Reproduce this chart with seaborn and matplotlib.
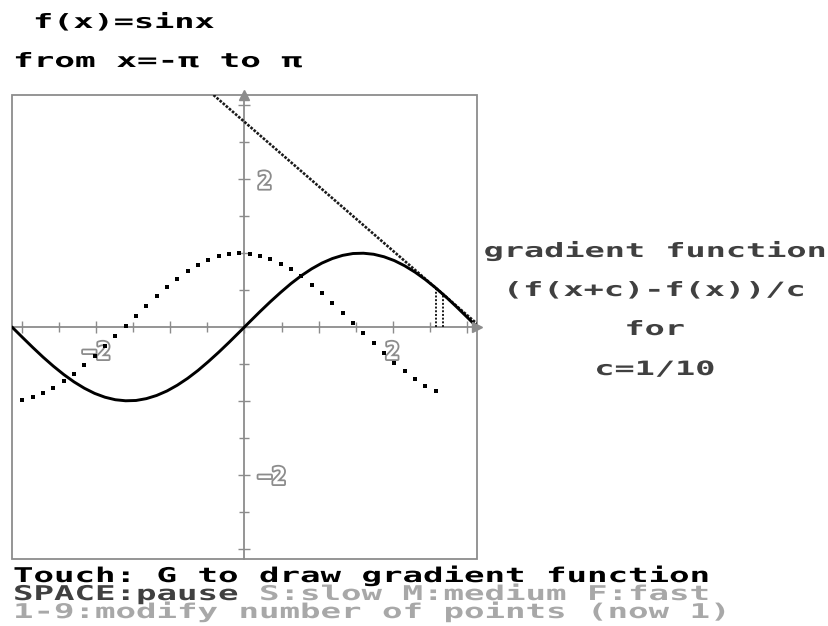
import matplotlib
matplotlib.use("Agg")
import matplotlib.pyplot as plt
import matplotlib.patheffects as pe
from matplotlib.transforms import Affine2D
from matplotlib.ticker import MultipleLocator, FuncFormatter
from matplotlib.patches import Rectangle
import numpy as np
import pandas as pd
import seaborn as sns

# sample points across [-pi, pi] (steps of 8 degrees)
x_vals = [-3.142, -3.002, -2.862, -2.723, -2.583, -2.443, -2.304, -2.164,
          -2.025, -1.885, -1.745, -1.606, -1.466, -1.326, -1.187, -1.047,
          -0.908, -0.768, -0.628, -0.489, -0.349, -0.209, -0.070, 0.070,
          0.209, 0.349, 0.489, 0.628, 0.768, 0.908, 1.047, 1.187,
          1.326, 1.466, 1.606, 1.745, 1.885, 2.025, 2.164, 2.304,
          2.443, 2.583, 2.723, 2.862, 3.002, 3.142]

# f(x) = sin x at those points
sin_vals = [0.000, -0.139, -0.276, -0.407, -0.530, -0.643, -0.743, -0.829,
            -0.899, -0.951, -0.985, -0.999, -0.995, -0.970, -0.927, -0.866,
            -0.788, -0.695, -0.588, -0.469, -0.342, -0.208, -0.070, 0.070,
            0.208, 0.342, 0.469, 0.588, 0.695, 0.788, 0.866, 0.927,
            0.970, 0.995, 0.999, 0.985, 0.951, 0.899, 0.829, 0.743,
            0.643, 0.530, 0.407, 0.276, 0.139, 0.000]

# gradient (f(x+c)-f(x))/c plotted so far
grad_x = x_vals[1:42]
grad_vals = [-0.982, -0.946, -0.892, -0.820, -0.733, -0.631, -0.517, -0.393,
             -0.261, -0.124, 0.015, 0.154, 0.290, 0.420, 0.543, 0.654,
             0.753, 0.837, 0.905, 0.955, 0.987, 1.000, 0.993, 0.966,
             0.921, 0.858, 0.779, 0.684, 0.575, 0.456, 0.328, 0.193,
             0.055, -0.085, -0.223, -0.356, -0.483, -0.600, -0.705, -0.797,
             -0.873]

# current chord: x and x+c with their function values
chord_x = [2.583, 2.683]
chord_y = [0.530, 0.443]

tick_text = {-2: "\u22122", 2: "2"}

title_lines = ["f(x)=sinx", "from x=-\u03c0 to \u03c0"]
side_lines = ["gradient function", "(f(x+c)-f(x))/c", "for", "c=1/10"]
help_line1 = "Touch: G to draw gradient function"
help_key = "SPACE:pause"
help_speed = "S:slow M:medium F:fast"
help_line3 = "1-9:modify number of points (now 1)"


class Widen(pe.AbstractPathEffect):
    """Stretch glyphs about the baseline to mimic a wide bitmap font."""

    def __init__(self, sx, sy=1.0, centred=False):
        super().__init__()
        self._sx = sx
        self._sy = sy
        self._centred = centred

    def draw_path(self, renderer, gc, tpath, affine, rgbFace=None):
        cx = 0.0
        if self._centred:
            ext = tpath.get_extents()
            cx = 0.5 * (ext.x0 + ext.x1)
        stretch = (Affine2D().translate(-cx, 0)
                   .scale(self._sx, self._sy).translate(cx, 0))
        renderer.draw_path(gc, tpath, stretch + affine, rgbFace)


sns.set_style("white")
plt.rcParams["font.family"] = ["DejaVu Sans Mono", "DejaVu Sans"]

W, H = 829, 626
fig = plt.figure(figsize=(W / 100, H / 100), dpi=100)
ax = fig.add_axes([12 / W, (H - 559) / H, 465 / W, 464 / H])

PI = np.pi
ax.set_xlim(-PI, PI)
ax.set_ylim(-PI, PI)

# chord extended to a full line, and the two verticals under it
ax.axline((chord_x[0], chord_y[0]), (chord_x[1], chord_y[1]),
          color="#1a1a1a", lw=1.9, ls=(0, (1.0, 0.55)), zorder=3)
ax.vlines(chord_x, 0, chord_y, colors="#1a1a1a", lw=1.4,
          linestyles=(0, (1, 0.9)), zorder=3)

df_curve = pd.DataFrame({"x": x_vals, "y": sin_vals})
sns.lineplot(data=df_curve, x="x", y="y", ax=ax, color="black", lw=2.1,
             sort=False, estimator=None, zorder=4)

df_grad = pd.DataFrame({"x": grad_x, "y": grad_vals})
sns.scatterplot(data=df_grad, x="x", y="y", ax=ax, color="black", s=6,
                marker="s", linewidth=0, zorder=4)

ax.set_xlabel("")
ax.set_ylabel("")

# axes through the origin
axis_col = "#8c8c8c"
for side in ("left", "bottom", "right"):
    ax.spines[side].set_position(("data", 0))
ax.spines["left"].set_color(axis_col)
ax.spines["bottom"].set_color(axis_col)
ax.spines["left"].set_linewidth(1.3)
ax.spines["bottom"].set_linewidth(1.3)
ax.spines["right"].set_visible(False)
ax.spines["top"].set_visible(False)

# frame around the plotting area
ax.add_patch(Rectangle((0, 0), 1, 1, transform=ax.transAxes, fill=False,
                       edgecolor=axis_col, lw=1.3, clip_on=False, zorder=2))

for axis in (ax.xaxis, ax.yaxis):
    axis.set_major_locator(MultipleLocator(1))
    axis.set_minor_locator(MultipleLocator(0.5))
    axis.set_major_formatter(FuncFormatter(lambda v, p: tick_text.get(int(round(v)), "")))

ax.tick_params(which="both", direction="inout", color=axis_col, width=1.0,
               labelcolor="white", labelsize=17)
ax.tick_params(which="major", length=9, pad=5)
ax.tick_params(which="minor", length=7)
ax.tick_params(axis="y", which="both", left=True, right=False,
               labelleft=False, labelright=True)
ax.tick_params(axis="x", which="both", bottom=True, top=False)

# arrowheads at the ends of the axes
ax.plot([0], [PI], marker="^", ms=7, color=axis_col, clip_on=False, zorder=5)
ax.plot([PI], [0], marker=">", ms=7, color=axis_col, clip_on=False, zorder=5)

hollow = [pe.Stroke(linewidth=2.6, foreground="#8c8c8c"), pe.Normal()]

mono = dict(family=["DejaVu Sans Mono", "DejaVu Sans"], weight="bold")

# heading
fig.text(33 / W, 1 - 28 / H, title_lines[0], fontsize=14.2, color="black",
         va="baseline", ha="left", path_effects=[Widen(1.70)], **mono)
fig.text(13 / W, 1 - 67 / H, title_lines[1], fontsize=14.2, color="black",
         va="baseline", ha="left", path_effects=[Widen(1.74)], **mono)

# explanation at the right
for line, base in zip(side_lines, [257, 296, 335, 375]):
    fig.text(655 / W, 1 - base / H, line, fontsize=14.2, color="#404040",
             va="baseline", ha="center", path_effects=[Widen(1.70, 1.0, True)], **mono)

# key help at the bottom (tight line pitch, glyphs stretched upward)
help_pt = 12.4
help_sx = 20.5 / (0.602 * help_pt * 100 / 72)
help_fx = [Widen(help_sx, 1.18)]
fig.text(13 / W, 1 - 582 / H, help_line1, fontsize=help_pt, color="black",
         va="baseline", ha="left", path_effects=help_fx, **mono)
fig.text(13 / W, 1 - 600 / H, help_key, fontsize=help_pt, color="#404040",
         va="baseline", ha="left", path_effects=help_fx, **mono)
fig.text(259 / W, 1 - 600 / H, help_speed, fontsize=help_pt, color="#a8a8a8",
         va="baseline", ha="left", path_effects=help_fx, **mono)
fig.text(13 / W, 1 - 618 / H, help_line3, fontsize=help_pt, color="#a8a8a8",
         va="baseline", ha="left", path_effects=help_fx, **mono)

fig.canvas.draw()
for lbl in ax.get_xticklabels():
    lbl.set_path_effects(hollow)
    lbl.set_fontweight("bold")
for tick in ax.yaxis.get_major_ticks():
    tick.label2.set_path_effects(hollow)
    tick.label2.set_fontweight("bold")

fig.savefig("out.png", dpi=100, facecolor="white")
